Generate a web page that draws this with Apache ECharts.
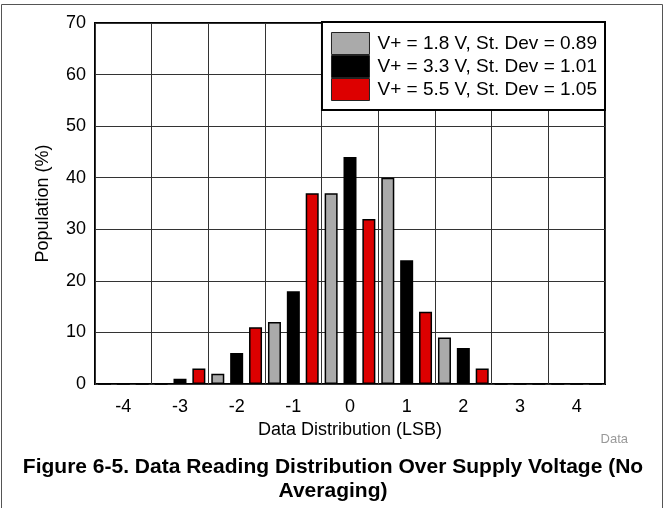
<!DOCTYPE html>
<html>
<head>
<meta charset="utf-8">
<script src="https://cdn.jsdelivr.net/npm/echarts@6/dist/echarts.min.js"></script>
<style>
html,body{margin:0;padding:0;background:#fff;}
#chart{width:666px;height:508px;}
</style>
</head>
<body>
<div id="chart"></div>
<script>
// ---- data ----
const tickLabels = ['-4', '-3', '-2', '-1', '0', '1', '2', '3', '4'];
const seriesNames = ['V+ = 1.8 V, St. Dev = 0.89', 'V+ = 3.3 V, St. Dev = 1.01', 'V+ = 5.5 V, St. Dev = 1.05'];
const pos18 = [-4.333, -3.333, -2.333, -1.333, -0.333, 0.667, 1.667, 2.667, 3.667];
const val18 = [0, 0, 2, 12, 37, 40, 9, 0, 0];
const pos33 = [-4, -3, -2, -1, 0, 1, 2, 3, 4];
const val33 = [0, 1, 6, 18, 44, 24, 7, 0, 0];
const pos55 = [-3.667, -2.667, -1.667, -0.667, 0.333, 1.333, 2.333, 3.333, 4.333];
const val55 = [0, 3, 11, 37, 32, 14, 3, 0, 0];
const colors = ['#aaaaaa', '#000000', '#dd0000'];

const FONT = 'Liberation Sans, Arial, sans-serif';
function pairs(p, v) { return p.map((x, i) => [x, v[i]]); }
function barSeries(name, p, v, color) {
  return {
    name: name, type: 'bar', xAxisIndex: 1, yAxisIndex: 0,
    data: pairs(p, v), barWidth: 13, barGap: '-100%',
    itemStyle: { color: color, borderColor: '#000', borderWidth: 1.5 },
    emphasis: { disabled: true }
  };
}

const chart = echarts.init(document.getElementById('chart'), null, { renderer: 'canvas' });
chart.setOption({
  animation: false,
  backgroundColor: '#fff',
  textStyle: { fontFamily: FONT },
  title: [
    {
      text: 'Figure 6-5. Data Reading Distribution Over Supply Voltage (No\nAveraging)',
      left: 'center', top: 450,
      textStyle: { fontFamily: FONT, fontSize: 21, fontWeight: 'bold', color: '#000', lineHeight: 24 }
    },
    {
      text: 'Data', right: 33, top: 428,
      textStyle: { fontFamily: FONT, fontSize: 13, fontWeight: 'normal', color: '#999' }
    }
  ],
  graphic: [{
    type: 'rect', silent: true, z: -1,
    shape: { x: 1.5, y: 4.5, width: 661, height: 530 },
    style: { fill: 'none', stroke: '#555', lineWidth: 1 }
  }],
  grid: { left: 95, right: 61, top: 23, bottom: 124, show: true, borderColor: '#000', borderWidth: 2, backgroundColor: 'transparent' },
  legend: {
    orient: 'vertical', right: 61, top: 22,
    data: seriesNames,
    icon: 'rect', itemWidth: 38, itemHeight: 22, itemGap: 0,
    itemStyle: { borderWidth: 1, borderColor: '#222' },
    backgroundColor: '#fff', borderColor: '#000', borderWidth: 2,
    padding: [10, 8, 9, 9],
    textStyle: { fontFamily: FONT, fontSize: 19, lineHeight: 22, color: '#000', padding: [0, 0, 0, 3] }
  },
  xAxis: [
    {
      type: 'category', data: tickLabels, boundaryGap: true, position: 'bottom',
      name: 'Data Distribution (LSB)', nameLocation: 'middle', nameGap: 36,
      nameTextStyle: { fontFamily: FONT, fontSize: 18, color: '#000' },
      axisLine: { show: false },
      axisTick: { show: false },
      axisLabel: { fontFamily: FONT, fontSize: 18, color: '#000', margin: 14 },
      splitLine: { show: true, lineStyle: { color: '#333', width: 1 } }
    },
    {
      type: 'value', min: -4.5, max: 4.5, show: false
    }
  ],
  yAxis: {
    type: 'value', min: 0, max: 70, interval: 10,
    name: 'Population (%)', nameLocation: 'middle', nameGap: 43, nameRotate: 90,
    nameTextStyle: { fontFamily: FONT, fontSize: 18, color: '#000' },
    axisLine: { show: false }, axisTick: { show: false },
    axisLabel: { fontFamily: FONT, fontSize: 18, color: '#000', margin: 9 },
    splitLine: { show: true, lineStyle: { color: '#333', width: 1 } }
  },
  series: [
    barSeries(seriesNames[0], pos18, val18, colors[0]),
    barSeries(seriesNames[1], pos33, val33, colors[1]),
    barSeries(seriesNames[2], pos55, val55, colors[2])
  ]
});
</script>
</body>
</html>
